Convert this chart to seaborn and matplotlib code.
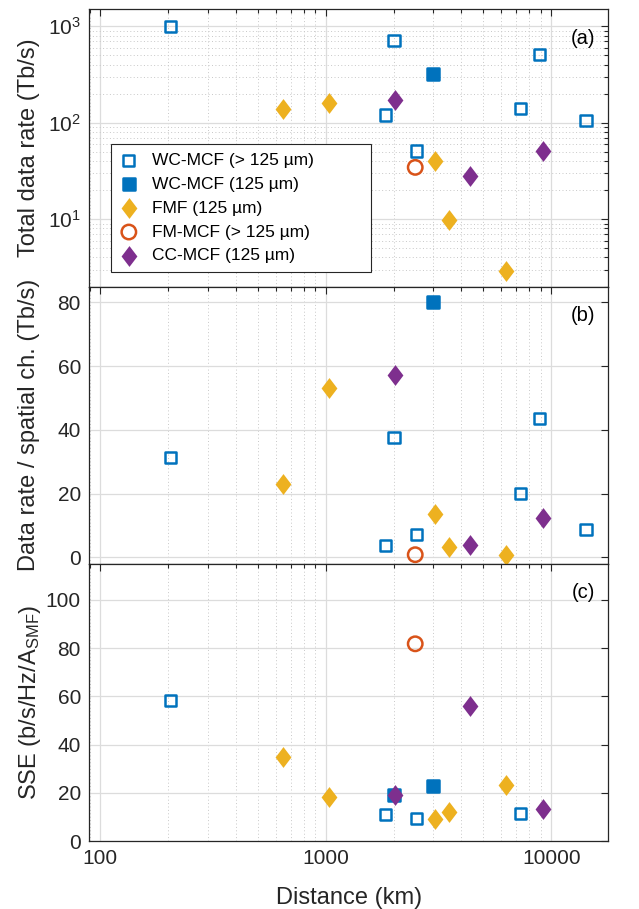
import numpy as np
import pandas as pd
import matplotlib
matplotlib.use("Agg")
import matplotlib.pyplot as plt
from matplotlib.ticker import LogLocator, FixedLocator, FuncFormatter, NullFormatter, MultipleLocator, NullLocator
import seaborn as sns

nan = np.nan

# ---------------- data ----------------
categories = ["WC-MCF (> 125 µm)", "WC-MCF (125 µm)", "FMF (125 µm)",
              "FM-MCF (> 125 µm)", "CC-MCF (125 µm)"]

wc_open_distance = [205, 2010, 8870, 1850, 7310, 14260, 2520]
wc_open_total = [1000, 716, 508, 120, 139, 105, 50.8]
wc_open_per_ch = [31.4, 37.5, 43.5, 3.7, 20.0, 8.7, 7.2]
wc_open_sse = [58.1, nan, nan, 10.9, 11.4, nan, 9.4]

wc_filled_distance = [2010, 2990]
wc_filled_total = [nan, 318]
wc_filled_per_ch = [nan, 80.0]
wc_filled_sse = [19.0, 22.9]

fmf_distance = [648, 1040, 3048, 3508, 6295]
fmf_total = [139, 160, 39.7, 9.9, 2.93]
fmf_per_ch = [23.0, 53.0, 13.5, 3.2, 0.9]
fmf_sse = [34.8, 18.2, 9.1, 12.0, 23.2]

fmmcf_distance = [2495]
fmmcf_total = [34.4]
fmmcf_per_ch = [0.84]
fmmcf_sse = [81.8]

cc_distance = [2028, 4385, 9165]
cc_total = [173, 27.7, 51.2]
cc_per_ch = [57.3, 3.9, 12.4]
cc_sse = [19.0, 55.9, 13.4]

y_labels = ["Total data rate (Tb/s)", "Data rate / spatial ch. (Tb/s)",
            "SSE (b/s/Hz/A$_{\\mathregular{SMF}}$)"]
panel_tags = ["(a)", "(b)", "(c)"]
x_label = "Distance (km)"

frames = []
for cat, d, t, p, s in [
    (categories[0], wc_open_distance, wc_open_total, wc_open_per_ch, wc_open_sse),
    (categories[1], wc_filled_distance, wc_filled_total, wc_filled_per_ch, wc_filled_sse),
    (categories[2], fmf_distance, fmf_total, fmf_per_ch, fmf_sse),
    (categories[3], fmmcf_distance, fmmcf_total, fmmcf_per_ch, fmmcf_sse),
    (categories[4], cc_distance, cc_total, cc_per_ch, cc_sse),
]:
    frames.append(pd.DataFrame({"fiber": cat, "distance": d, "total": t,
                                "per_ch": p, "sse": s}))
df = pd.concat(frames, ignore_index=True)

# ---------------- style ----------------
sns.set_theme(style="white")
plt.rcParams["font.family"] = ["Liberation Sans", "DejaVu Sans"]
plt.rcParams["mathtext.fontset"] = "custom"
plt.rcParams["mathtext.rm"] = "Liberation Sans"
plt.rcParams["mathtext.it"] = "Liberation Sans:italic"
plt.rcParams["mathtext.bf"] = "Liberation Sans:bold"

DARK = "#262626"
BLUE = "#0072BD"
YELLOW = "#EDB120"
ORANGE = "#D95319"
PURPLE = "#7E2F8E"
diamond = [(0, 1), (0.76, 0), (0, -1), (-0.76, 0)]

styles = {
    categories[0]: dict(marker="s", facecolor="none", edgecolor=BLUE, s=64, linewidth=1.8),
    categories[1]: dict(marker="s", facecolor=BLUE, edgecolor=BLUE, s=64, linewidth=1.8),
    categories[2]: dict(marker=diamond, facecolor=YELLOW, edgecolor=YELLOW, s=225, linewidth=0),
    categories[3]: dict(marker="o", facecolor="none", edgecolor=ORANGE, s=108, linewidth=1.8),
    categories[4]: dict(marker=diamond, facecolor=PURPLE, edgecolor=PURPLE, s=225, linewidth=0),
}

fig, axes = plt.subplots(3, 1, figsize=(6.39, 9.09), dpi=100, sharex=True)
fig.subplots_adjust(left=0.1398, right=0.952, top=0.9898, bottom=0.0748, hspace=0)

ycols = ["total", "per_ch", "sse"]
for i, ax in enumerate(axes):
    for cat in categories:
        sub = df[df["fiber"] == cat]
        st = styles[cat]
        sns.scatterplot(data=sub, x="distance", y=ycols[i], ax=ax,
                        label=cat if i == 0 else None, legend=False,
                        marker=st["marker"], facecolor=st["facecolor"],
                        edgecolor=st["edgecolor"], s=st["s"],
                        linewidth=st["linewidth"], zorder=3, clip_on=True)
    ax.set_xscale("log")
    ax.set_xlim(89.7, 17900)
    ax.xaxis.set_major_locator(FixedLocator([100, 1000, 10000]))
    ax.xaxis.set_minor_locator(LogLocator(base=10, subs=np.arange(2, 10)))
    ax.xaxis.set_major_formatter(FuncFormatter(lambda v, p: "%d" % v))
    ax.xaxis.set_minor_formatter(NullFormatter())
    ax.set_axisbelow(True)
    ax.grid(which="major", color="#dcdcdc", linewidth=0.9, linestyle="-")
    ax.grid(which="minor", color="#c8c8c8", linewidth=0.7, linestyle=(0, (1, 2.5)))
    ax.tick_params(which="both", direction="in", top=True, right=True,
                   color=DARK, labelcolor=DARK, labelsize=15, width=0.8, pad=6)
    ax.tick_params(which="major", length=5)
    ax.tick_params(which="minor", length=3)
    for sp in ax.spines.values():
        sp.set_color(DARK)
        sp.set_linewidth(0.9)
    ax.set_xlabel("")
    ax.set_ylabel(y_labels[i], fontsize=17, color=DARK)
    ax.text(0.975, 0.895, panel_tags[i], transform=ax.transAxes, ha="right",
            va="center", fontsize=14.5, color="black")

# panel (a)
ax = axes[0]
ax.set_yscale("log")
ax.set_ylim(2, 1500)
ax.yaxis.set_major_locator(FixedLocator([10, 100, 1000]))
ax.yaxis.set_minor_locator(LogLocator(base=10, subs=np.arange(2, 10)))
ax.yaxis.set_minor_formatter(NullFormatter())
ax.yaxis.set_label_coords(-0.095, 0.5)

# panel (b)
ax = axes[1]
ax.set_ylim(-2, 85)
ax.yaxis.set_major_locator(MultipleLocator(20))
ax.yaxis.set_minor_locator(NullLocator())
ax.yaxis.set_label_coords(-0.095, 0.5)

# panel (c)
ax = axes[2]
ax.set_ylim(0, 115)
ax.yaxis.set_major_locator(FixedLocator([0, 20, 40, 60, 80, 100]))
ax.yaxis.set_minor_locator(NullLocator())
ax.yaxis.set_label_coords(-0.09, 0.5)
ax.set_xlabel(x_label, fontsize=17, color=DARK)
ax.xaxis.set_label_coords(0.5, -0.165)

leg = axes[0].legend(loc="lower left", bbox_to_anchor=(0.041, 0.052, 0.502, 0.448),
                     mode="expand", borderaxespad=0, fontsize=12.5, frameon=True,
                     fancybox=False, edgecolor=DARK, framealpha=1, scatterpoints=1,
                     handlelength=1.1, handletextpad=0.8, borderpad=0.5,
                     labelspacing=0.5)
leg.get_frame().set_linewidth(0.8)
for t in leg.get_texts():
    t.set_color("black")

fig.savefig("out.png", dpi=100)
